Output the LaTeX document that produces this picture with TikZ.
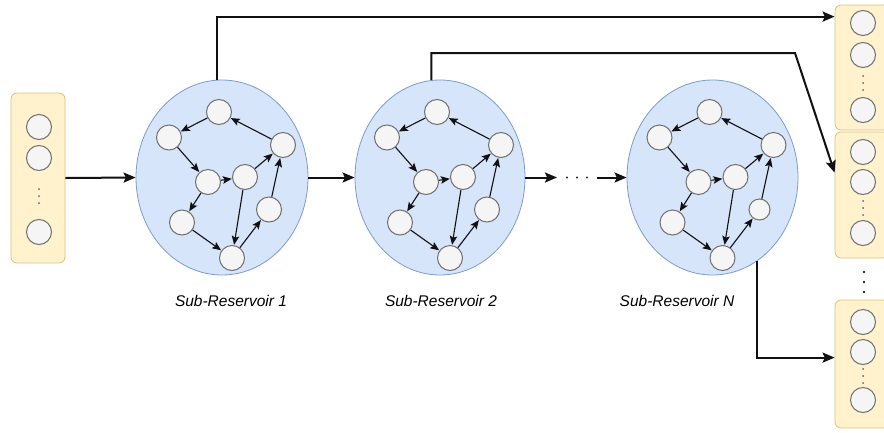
\documentclass[tikz,border=0pt]{standalone}
\usepackage{fontspec}
\setmainfont{Liberation Sans}
\usetikzlibrary{arrows.meta,calc,shapes.geometric}
\definecolor{boxfill}{HTML}{FFF2CC}
\definecolor{boxdraw}{HTML}{DCC278}
\definecolor{resfill}{HTML}{D6E5FA}
\definecolor{resdraw}{HTML}{7C9CCB}
\definecolor{neufill}{HTML}{F5F5F5}
\definecolor{neudraw}{HTML}{707070}
\definecolor{linecol}{HTML}{111111}

\newcommand{\subresnet}[4]{%
  \begin{scope}[shift={(#2,#3)}]
    \node[neuron] (#1a) at (-3,-65.5) {};
    \node[neuron] (#1b) at (-53,-40) {};
    \node[neuron] (#1c) at (-14,4.5) {};
    \node[neuron] (#1d) at (23,-0.5) {};
    \node[neuron] (#1e) at (61,-32.5) {};
    \node[neuron] (#1f) at (-40,45) {};
    \node[neuron] (#1g) at (10,80.5) {};
    \node[neuron, minimum size=#4] (#1h) at (47,32) {};
  \end{scope}
  \draw[inarrow] (#1a) -- (#1b);
  \draw[inarrow] (#1e) -- (#1a);
  \draw[inarrow] (#1b) -- (#1c);
  \draw[inarrow] (#1c) -- (#1d);
  \draw[inarrow] (#1d) -- (#1e);
  \draw[inarrow] (#1c) -- (#1f);
  \draw[inarrow] (#1f) -- (#1g);
  \draw[inarrow] (#1d) -- (#1g);
  \draw[inarrow] (#1g) -- (#1h);
  \draw[inarrow] (#1h) -- (#1e);
}

\begin{document}
\begin{tikzpicture}[x=1pt,y=-1pt,
  layerbox/.style={draw=boxdraw, fill=boxfill, rounded corners=6pt, minimum width=54pt, line width=0.8pt, inner sep=0pt},
  reservoir/.style={ellipse, draw=resdraw, fill=resfill, minimum width=172pt, minimum height=195pt, line width=0.8pt, inner sep=0pt},
  neuron/.style={circle, draw=neudraw, fill=neufill, minimum size=25pt, inner sep=0pt, line width=1pt},
  inarrow/.style={draw=linecol, line width=1.1pt, -{Stealth[length=9pt,width=7.5pt,inset=1.8pt]}, shorten >=0.3pt},
  mainarrow/.style={draw=linecol, line width=2pt, -{Stealth[length=12pt,width=10pt,inset=2.2pt]}},
  reslabel/.style={font=\itshape\fontsize{15.5}{18}\selectfont, text=black, inner sep=0pt},
  smalldot/.style={fill=black!60},
  bigdot/.style={fill=black!85}
]
\useasboundingbox (0,0) rectangle (884,432);
\clip (0,0) rectangle (884,432);

% input layer
\node[layerbox, minimum height=170pt] (in) at (38,178) {};
\node[neuron] (in1) at (39,127) {};
\node[neuron] (in2) at (39,158) {};
\node[neuron] (in3) at (39,232) {};
\foreach \yy in {189,196,203} \fill[smalldot] (39,\yy) circle (1pt);

% output layers
\node[layerbox, minimum height=125pt] (out1) at (862,67.5) {};
\node[neuron] (o1a) at (863,23) {};
\node[neuron] (o1b) at (863,55) {};
\node[neuron] (o1c) at (863,110) {};
\foreach \yy in {76,83,90} \fill[smalldot] (863,\yy) circle (1pt);

\node[layerbox, minimum height=126pt] (out2) at (862,195) {};
\node[neuron] (o2a) at (863,152) {};
\node[neuron] (o2b) at (863,182) {};
\node[neuron] (o2c) at (863,233) {};
\foreach \yy in {201,208,215} \fill[smalldot] (863,\yy) circle (1pt);

\node[layerbox, minimum height=128pt] (out3) at (862,364) {};
\node[neuron] (o3a) at (863,322) {};
\node[neuron] (o3b) at (863,352) {};
\node[neuron] (o3c) at (863,400) {};
\foreach \yy in {369,376,383} \fill[smalldot] (863,\yy) circle (1pt);

\foreach \yy in {272,282,292} \fill[bigdot] (864,\yy) circle (1.3pt);

% reservoirs
\node[reservoir] (r1) at (222,177.5) {};
\node[reservoir, minimum width=170pt] (r2) at (440,177.5) {};
\node[reservoir, minimum width=171pt] (rN) at (712.5,177.5) {};

\subresnet{p}{222}{177.5}{25pt}
\subresnet{q}{440}{177.5}{25pt}
\subresnet{s}{712.5}{177.5}{21pt}

% labels
\node[reslabel] (l1) at (231,301) {Sub-Reservoir 1};
\node[reslabel] (l2) at (441,301) {Sub-Reservoir 2};
\node[reslabel] (lN) at (677,301) {Sub-Reservoir N};

% main connectors
\draw[mainarrow] (in.east) -- (r1.west);
\draw[mainarrow] (r1.east) -- (r2.west);
\coordinate (d1) at (557,177.5);
\coordinate (d2) at (597,177.5);
\draw[mainarrow] (r2.east) -- (d1);
\foreach \xx in {567,577,587} \fill[bigdot] (\xx,177.5) circle (1.2pt);
\draw[mainarrow] (d2) -- (rN.west);

\draw[mainarrow] (r1.93) |- ([yshift=-12pt]out1.north west);
\coordinate (k2) at (795,53);
\draw[mainarrow] (r2.95) |- (k2) -- ([yshift=-41pt]out2.north west);
\draw[mainarrow] (rN.-62) |- ([yshift=-58pt]out3.north west);
\end{tikzpicture}
\end{document}
